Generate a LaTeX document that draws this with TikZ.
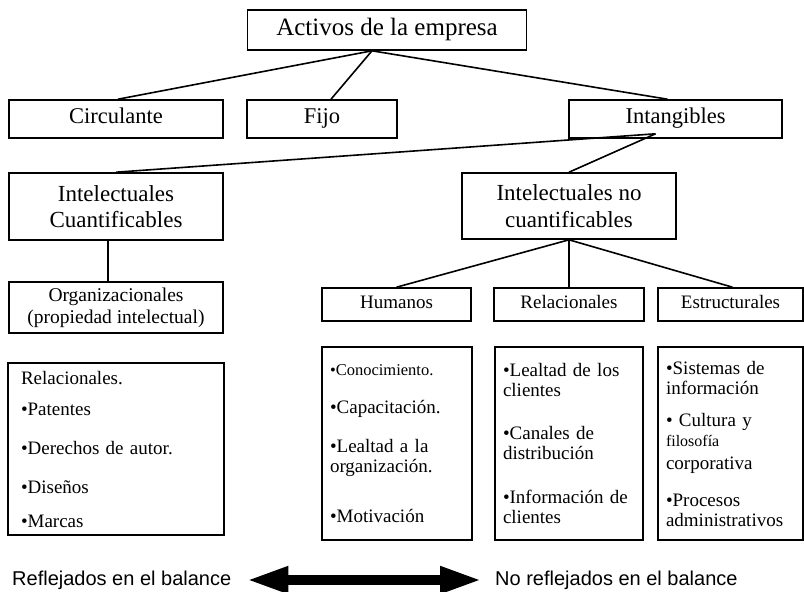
\documentclass[tikz,border=0pt]{standalone}
\usepackage{fontspec}
\setmainfont{Liberation Serif}
\newfontfamily\arialfont{Liberation Sans}
\usetikzlibrary{arrows.meta}

\tikzset{
  caja/.style={draw,line width=1.6pt,inner sep=0pt,align=center},
  grande/.style={font=\fontsize{22.5}{26}\selectfont,text height=15pt,text depth=6pt},
  chica/.style={font=\fontsize{19}{22}\selectfont,text height=12.5pt,text depth=5pt},
  conector/.style={line width=1.6pt},
  lista/.style={draw,line width=1.6pt,inner xsep=8pt,inner ysep=0pt,align=left,
    minimum height=193pt,font=\fontsize{19}{20}\selectfont},
  pie/.style={inner sep=0pt,font=\arialfont\fontsize{20}{22}\selectfont}
}

\begin{document}
\begin{tikzpicture}[x=1pt,y=-1pt]
\useasboundingbox (0,0) rectangle (804,592);
\node[caja,minimum width=279pt,minimum height=40pt,font=\fontsize{25}{28}\selectfont,text height=17pt,text depth=7pt] (activos) at (387,30) {Activos de la empresa};
% segundo nivel
\node[caja,grande,minimum width=214pt,minimum height=38pt] (circ) at (116,119) {Circulante};
\node[caja,grande,minimum width=150pt,minimum height=38pt] (fijo) at (322,119) {Fijo};
\node[caja,grande,minimum width=213pt,minimum height=38pt] (intang) at (675.5,119) {Intangibles};
\coordinate (horq) at ([xshift=-20pt,yshift=5pt]intang.south);
% tercer nivel
\node[caja,minimum width=214pt,minimum height=67pt,font=\fontsize{23}{26}\selectfont] (cuant) at (116,206.5) {Intelectuales\\Cuantificables};
\node[caja,minimum width=214pt,minimum height=66pt,font=\fontsize{23}{27}\selectfont] (nocuant) at (569,206) {Intelectuales no\\cuantificables};
\node[caja,minimum width=214pt,minimum height=51pt,font=\fontsize{19.5}{22}\selectfont] (org) at (116,307.5) {Organizacionales\\(propiedad intelectual)};
\node[caja,chica,minimum width=149pt,minimum height=33pt] (hum) at (396.5,304.5) {Humanos};
\node[caja,chica,minimum width=150pt,minimum height=33pt] (rel) at (569,304.5) {Relacionales};
\node[caja,chica,minimum width=145pt,minimum height=33pt] (est) at (730.5,304.5) {Estructurales};
% listas
\node[lista,inner xsep=13pt,text width=190pt,minimum height=172pt] (lorg) at (116,449) {Relacionales.\\[11pt]
•Patentes\\[19pt]
•Derechos de autor.\\[19pt]
•Diseños\\[14pt]
•Marcas};
\node[lista,text width=134pt] (lhum) at (397,443.5) {{\fontsize{16.5}{20}\selectfont •Conocimiento.}\\[18pt]
•Capacitación.\\[19pt]
•Lealtad a la\\
organización.\\[30pt]
•Motivación};
\node[lista,text width=132pt] (lrel) at (569,443.5) {•Lealtad de los\\
clientes\\[23pt]
•Canales de\\
distribución\\[24pt]
•Información de\\
clientes};
\node[lista,text width=129pt] (lest) at (730.5,443.5) {•Sistemas de\\
información\\[12pt]
• Cultura y\\
{\fontsize{16}{18}\selectfont filosofía}\\[3pt]
corporativa\\[17pt]
•Procesos\\
administrativos};
% conectores
\draw[conector] ([xshift=-15pt]activos.south) -- ([xshift=2pt]circ.north);
\draw[conector] ([xshift=-15pt]activos.south) -- ([xshift=9pt]fijo.north);
\draw[conector] ([xshift=-15pt]activos.south) -- ([xshift=-8pt]intang.north);
\draw[conector] (horq) -- (cuant.north);
\draw[conector] (horq) -- (nocuant.north);
\draw[conector] ([xshift=-8pt]cuant.south) -- ([xshift=-8pt]org.north);
\draw[conector] (nocuant.south) -- (hum.north);
\draw[conector] (nocuant.south) -- (rel.north);
\draw[conector] (nocuant.south) -- ([xshift=2pt]est.north);
% balance
\node[pie,anchor=west] (refl) at (12,580) {Reflejados en el balance};
\node[pie,anchor=west] (norefl) at (495,580) {No reflejados en el balance};
\draw[line width=10pt,{Triangle[length=42pt,width=25pt]}-{Triangle[length=42pt,width=25pt]}] ([xshift=15pt]refl.east) -- ([xshift=-13pt]norefl.west);
\end{tikzpicture}
\end{document}
